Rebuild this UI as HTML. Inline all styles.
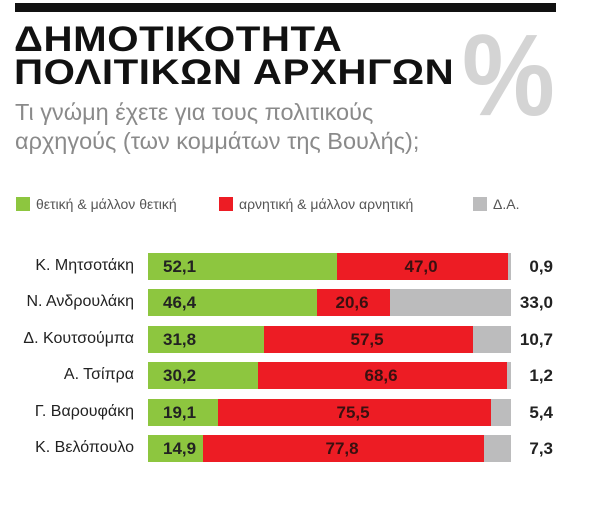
<!DOCTYPE html>
<html><head><meta charset="utf-8"><style>
body{margin:0;width:600px;height:524px;background:#fff;position:relative;overflow:hidden;font-family:"Liberation Sans","DejaVu Sans",sans-serif}
.a{position:absolute;white-space:nowrap}
.t{font-weight:bold;font-size:35px;color:#111;left:14px;letter-spacing:0.5px;transform:scaleX(1.15);transform-origin:left}
.s{font-size:23.5px;color:#8a8a8a;left:15px}
.lg{font-size:14px;color:#555;top:196px}
.sq{position:absolute;width:14px;height:14px;top:197px}
.name{font-size:16px;color:#222;right:466px;text-align:right}
.bar{position:absolute;height:27px}
.v{font-size:17px;font-weight:bold;color:#222}
</style></head><body>
<div class="a" style="left:15px;top:3px;width:541px;height:9px;background:#111"></div>
<div class="a t" style="top:20px">ΔΗΜΟΤΙΚΟΤΗΤΑ</div>
<div class="a t" style="top:53px">ΠΟΛΙΤΙΚΩΝ ΑΡΧΗΓΩΝ</div>
<div class="a" style="left:462px;top:8px;font-size:116px;font-weight:bold;color:#d4d4d4;transform:scaleX(0.9);transform-origin:left">%</div>
<div class="a s" style="top:99px">Τι γνώμη έχετε για τους πολιτικούς</div>
<div class="a s" style="top:128px">αρχηγούς (των κομμάτων της Βουλής);</div>
<div class="sq" style="left:16px;background:#8dc63f"></div><div class="a lg" style="left:36px">θετική &amp; μάλλον θετική</div>
<div class="sq" style="left:219px;background:#ed1c24"></div><div class="a lg" style="left:239px">αρνητική &amp; μάλλον αρνητική</div>
<div class="sq" style="left:473px;background:#bcbcbd"></div><div class="a lg" style="left:493px">Δ.Α.</div>
<div id="rows"></div>
<script>
var d=[["Κ. Μητσοτάκη","52,1","47,0","0,9",337,508],["Ν. Ανδρουλάκη","46,4","20,6","33,0",317,390],["Δ. Κουτσούμπα","31,8","57,5","10,7",264,473],["Α. Τσίπρα","30,2","68,6","1,2",258,507],["Γ. Βαρουφάκη","19,1","75,5","5,4",218,491],["Κ. Βελόπουλο","14,9","77,8","7,3",203,484]];
var h="",ys=[253,289,326,362,399,435];
d.forEach(function(r,i){var y=ys[i];
h+='<div class="a name" style="top:'+(y+4)+'px">'+r[0]+'</div>';
h+='<div class="bar" style="left:148px;top:'+y+'px;width:363px;background:#bcbcbd"></div>';
h+='<div class="bar" style="left:'+r[4]+'px;top:'+y+'px;width:'+(r[5]-r[4])+'px;background:#ed1c24"></div>';
h+='<div class="bar" style="left:148px;top:'+y+'px;width:'+(r[4]-148)+'px;background:#8dc63f"></div>';
h+='<div class="a v" style="left:163px;top:'+(y+4)+'px">'+r[1]+'</div>';
h+='<div class="a v" style="left:'+((r[4]+r[5])/2-18)+'px;top:'+(y+4)+'px;color:#3a1010">'+r[2]+'</div>';
h+='<div class="a v" style="right:47px;top:'+(y+4)+'px">'+r[3]+'</div>';});
document.getElementById("rows").innerHTML=h;
</script>
</body></html>
